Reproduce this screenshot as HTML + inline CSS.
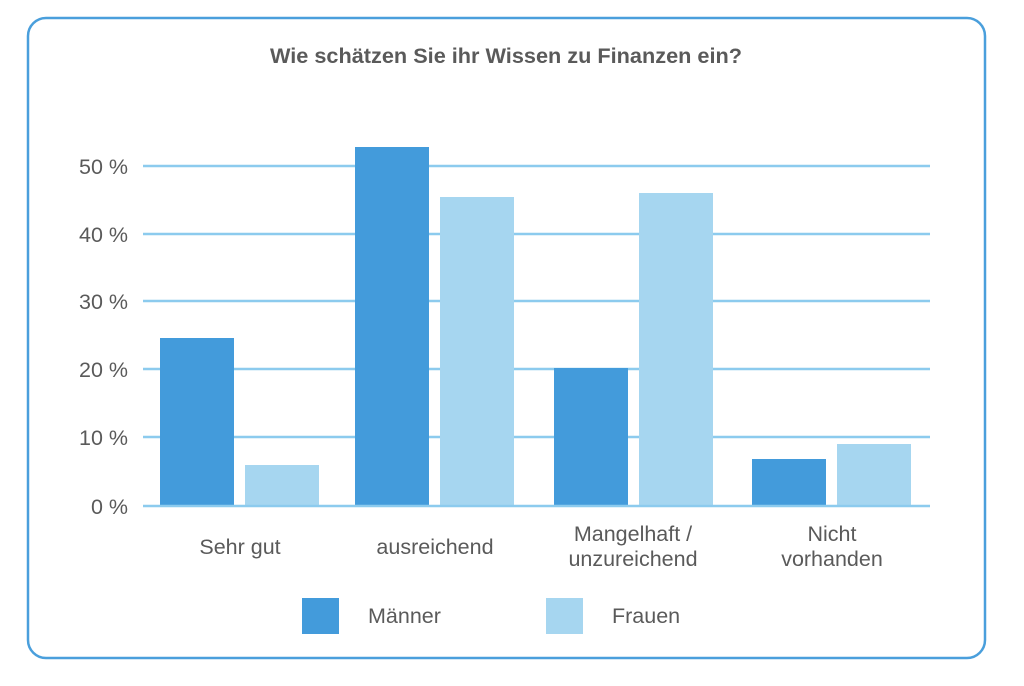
<!DOCTYPE html>
<html><head><meta charset="utf-8"><style>
body{margin:0;background:#fff;}
svg{display:block}
text{font-family:"Liberation Sans",sans-serif;fill:#5a5a5a}
</style></head><body>
<svg width="1024" height="686" viewBox="0 0 1024 686">
<rect x="0" y="0" width="1024" height="686" fill="#fff"/>
<rect x="28" y="18" width="957" height="640" rx="18" fill="#fff" stroke="#4a9fdc" stroke-width="2.5"/>
<text x="506" y="63" text-anchor="middle" font-size="21.7" font-weight="bold" fill="#666">Wie schätzen Sie ihr Wissen zu Finanzen ein?</text>
<g stroke="#8ccbee" stroke-width="2.5">
<line x1="143" y1="166" x2="930" y2="166"/>
<line x1="143" y1="234" x2="930" y2="234"/>
<line x1="143" y1="301" x2="930" y2="301"/>
<line x1="143" y1="369" x2="930" y2="369"/>
<line x1="143" y1="437" x2="930" y2="437"/>
</g>
<g font-size="21.5" text-anchor="end">
<text x="128" y="174">50 %</text>
<text x="128" y="242">40 %</text>
<text x="128" y="309">30 %</text>
<text x="128" y="377">20 %</text>
<text x="128" y="445">10 %</text>
<text x="128" y="514">0 %</text>
</g>
<g fill="#439bdb">
<rect x="160" y="338" width="74" height="168"/>
<rect x="355" y="147" width="74" height="359"/>
<rect x="554" y="368" width="74" height="138"/>
<rect x="752" y="459" width="74" height="47"/>
</g>
<g fill="#a6d6f0">
<rect x="245" y="465" width="74" height="41"/>
<rect x="440" y="197" width="74" height="309"/>
<rect x="639" y="193" width="74" height="313"/>
<rect x="837" y="444" width="74" height="62"/>
</g>
<line x1="143" y1="506" x2="930" y2="506" stroke="#8ccbee" stroke-width="2.5"/>
<g font-size="21.5" text-anchor="middle">
<text x="240" y="554">Sehr gut</text>
<text x="435" y="554">ausreichend</text>
<text x="633" y="541">Mangelhaft /</text>
<text x="633" y="566">unzureichend</text>
<text x="832" y="541">Nicht</text>
<text x="832" y="566">vorhanden</text>
</g>
<rect x="302" y="598" width="37" height="36" fill="#439bdb"/>
<text x="368" y="623" font-size="21.5">Männer</text>
<rect x="546" y="598" width="37" height="36" fill="#a6d6f0"/>
<text x="612" y="623" font-size="21.5">Frauen</text>
</svg>
</body></html>
